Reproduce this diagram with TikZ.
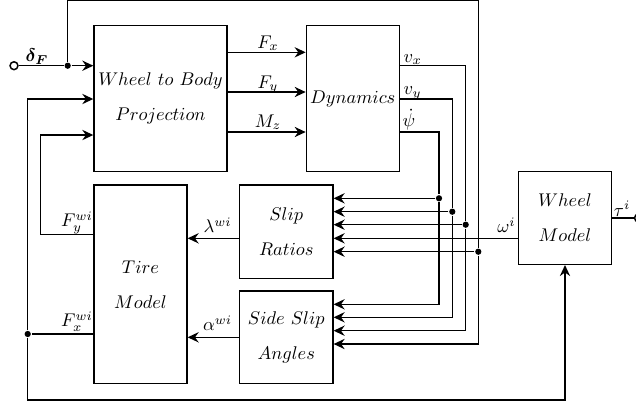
\documentclass[tikz,border=0pt]{standalone}
\usepackage{amsmath,bm}
\usetikzlibrary{arrows.meta}
\begin{document}
\begin{tikzpicture}[x=0.5435pt,y=-0.5435pt,line width=0.75pt,
  blk/.style={draw,align=center,inner sep=0pt,font=\fontsize{10}{19}\selectfont},
  arr/.style={-{Stealth[length=6pt,width=5.6pt,inset=2pt]}},
  dot/.style={circle,fill,inner sep=0pt,minimum size=3.4pt},
  ocirc/.style={circle,draw,fill=white,inner sep=0pt,minimum size=4.3pt,line width=0.8pt},
  lbl/.style={anchor=base,inner sep=0pt,font=\fontsize{10}{12}\selectfont}]
\useasboundingbox (0,0) rectangle (636,405);
% blocks
\node[blk,minimum width=72.3pt,minimum height=79.35pt] (wbp) at (160.5,98.7) {$Wheel\ to\ Body$\\$Projection$};
\node[blk,minimum width=50.5pt,minimum height=79.35pt] (dyn) at (352.8,98.7) {$Dynamics$};
\node[blk,minimum width=50.5pt,minimum height=108pt] (tire) at (140.5,284.3) {$Tire$\\$Model$};
\node[blk,minimum width=50.7pt,minimum height=50.7pt] (slip) at (286.3,231.7) {$Slip$\\$Ratios$};
\node[blk,minimum width=50.7pt,minimum height=50.4pt] (side) at (286.3,337.3) {$Side\ Slip$\\$Angles$};
\node[blk,minimum width=50.7pt,minimum height=50.4pt] (wheel) at (565,218) {$Wheel$\\$Model$};
% input delta_F
\node[ocirc] (in) at (14,65.7) {};
\node[dot] (j1) at (67.7,65.7) {};
\draw (in) -- (j1);
\draw[arr] (j1) -- (j1 -| wbp.west);
\node[lbl] (ldelta) at (37,61.5) {$\boldsymbol{\delta_F}$};
% top loop of delta_F
\coordinate (t1) at (67.7,0.3);
\coordinate (t2) at (478.3,0.3);
\node[dot] (j5) at (478.3,251.7) {};
\coordinate (s4) at (478.3,344);
\draw (j1) -- (t1) -- (t2) -- (j5);
\draw[arr] (j5) -- (j5 -| slip.east);
\draw[arr] (j5) -- (s4) -- (s4 -| side.east);
% forces
\draw[arr] (wbp.east |- 0,52.3) -- (dyn.west |- 0,52.3);
\draw[arr] (wbp.east |- 0,92) -- (dyn.west |- 0,92);
\draw[arr] (wbp.east |- 0,132) -- (dyn.west |- 0,132);
\node[lbl] (lfx) at (268,48) {$F_x$};
\node[lbl] (lfy) at (268,88) {$F_y$};
\node[lbl] (lmz) at (268,127) {$M_z$};
% dynamics outputs
\coordinate (vx1) at (465.7,65.7);
\node[dot] (jvx) at (465.7,224.7) {};
\coordinate (vx2) at (465.7,330.7);
\draw (dyn.east |- vx1) -- (vx1) -- (jvx);
\draw[arr] (jvx) -- (jvx -| slip.east);
\draw[arr] (jvx) -- (vx2) -- (vx2 -| side.east);
\coordinate (vy1) at (452.3,99);
\node[dot] (jvy) at (452.3,211.7) {};
\coordinate (vy2) at (452.3,317.3);
\draw (dyn.east |- vy1) -- (vy1) -- (jvy);
\draw[arr] (jvy) -- (jvy -| slip.east);
\draw[arr] (jvy) -- (vy2) -- (vy2 -| side.east);
\coordinate (ps1) at (439,132);
\node[dot] (jps) at (439,198.3) {};
\coordinate (ps2) at (439,304.3);
\draw (dyn.east |- ps1) -- (ps1) -- (jps);
\draw[arr] (jps) -- (jps -| slip.east);
\draw[arr] (jps) -- (ps2) -- (ps2 -| side.east);
\node[lbl,anchor=base west] (lvx) at (403,62) {$v_x$};
\node[lbl,anchor=base west] (lvy) at (403,94.5) {$v_y$};
\node[lbl,anchor=base west] (lps) at (402,126.5) {$\dot{\psi}$};
% wheel model
\coordinate (om) at (wheel.west |- 0,238.3);
\draw[arr] (om) -- (om -| slip.east);
\node[lbl] (lom) at (506.5,232.7) {$\omega^i$};
\node[ocirc] (out) at (638.5,218) {};
\draw (wheel.east) -- (out);
\node[lbl] (ltau) at (622,216) {$\tau^i$};
% slip to tire
\draw[arr] (slip.west |- 0,238.3) -- (tire.east |- 0,238.3);
\draw[arr] (side.west) -- (side.west -| tire.east);
\node[lbl] (llam) at (217.5,232.7) {$\lambda^{wi}$};
\node[lbl] (lalp) at (217.5,330.7) {$\alpha^{wi}$};
% tire outputs
\coordinate (c1) at (40.7,234.3);
\coordinate (c2) at (40.7,135);
\draw[arr] (tire.west |- c1) -- (c1) -- (c2) -- (c2 -| wbp.west);
\node[lbl] (lfyw) at (77,226.7) {$F_y^{wi}$};
\node[dot] (j6) at (27.7,334) {};
\coordinate (b1) at (27.7,99);
\coordinate (b2) at (27.7,400);
\draw (tire.west |- j6) -- (j6);
\draw[arr] (j6) -- (b1) -- (b1 -| wbp.west);
\draw[arr] (j6) -- (b2) -- (b2 -| wheel.south) -- (wheel.south);
\node[lbl] (lfxw) at (77,326.7) {$F_x^{wi}$};
\end{tikzpicture}
\end{document}
